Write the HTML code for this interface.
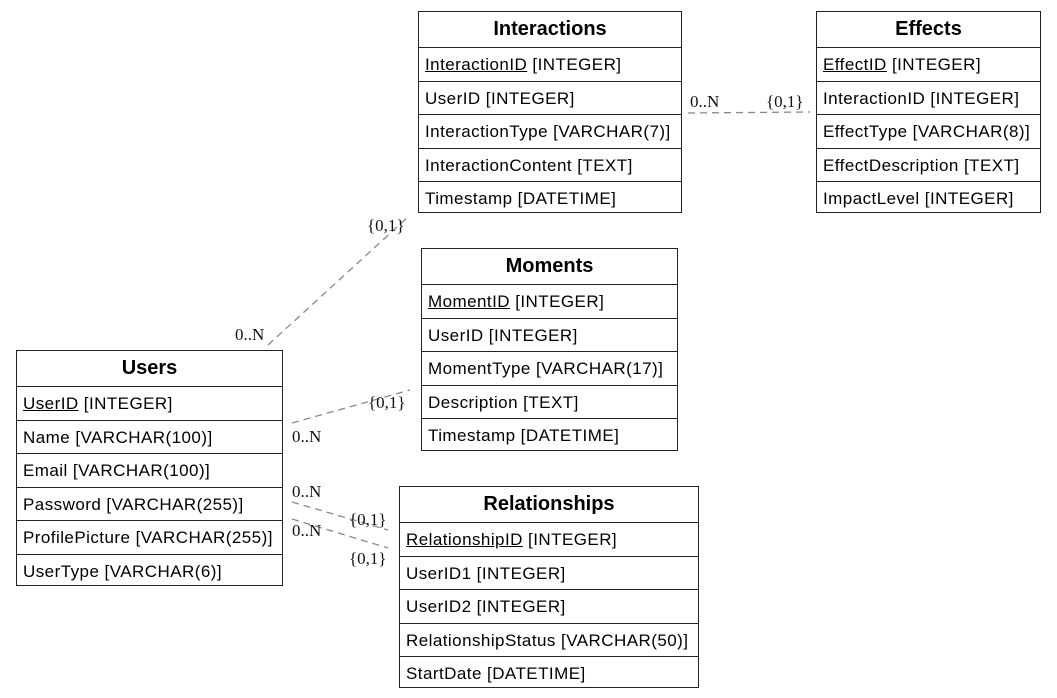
<!DOCTYPE html>
<html><head><style>
body{margin:0;width:1057px;height:698px;background:#fff;position:relative;overflow:hidden;font-family:"Liberation Sans",sans-serif}
.t{position:absolute;border:1.5px solid #222;background:#fff;box-sizing:border-box}
.h{height:35px;line-height:35px;text-align:center;font-weight:bold;font-size:20px;border-bottom:1.5px solid #222}
.r{height:33.5px;line-height:33px;padding-left:6px;font-size:17px;letter-spacing:0.45px;border-bottom:1px solid #222;box-sizing:border-box;white-space:nowrap}
.r:last-child{border-bottom:none}
u{text-decoration:underline}
svg{position:absolute;left:0;top:0}
.l{font-family:"Liberation Serif",serif;font-size:17px;fill:#111}
</style></head><body>
<svg width="1057" height="698">
<g stroke="#888" stroke-width="1.3" stroke-dasharray="7,5" fill="none">
<line x1="268" y1="345" x2="408" y2="217"/>
<line x1="292" y1="423" x2="410" y2="390"/>
<line x1="292" y1="502" x2="388" y2="530"/>
<line x1="292" y1="519" x2="388" y2="548"/>
<line x1="688" y1="113" x2="810" y2="112"/>
</g>
<text class="l" x="235" y="340">0..N</text>
<text class="l" x="367" y="231">{0,1}</text>
<text class="l" x="292" y="442">0..N</text>
<text class="l" x="368" y="408">{0,1}</text>
<text class="l" x="292" y="497">0..N</text>
<text class="l" x="349" y="525">{0,1}</text>
<text class="l" x="292" y="536">0..N</text>
<text class="l" x="349" y="564">{0,1}</text>
<text class="l" x="690" y="107">0..N</text>
<text class="l" x="766" y="107">{0,1}</text>
</svg>
<div class="t" style="left:418px;top:11px;width:264px;height:202px"><div class="h">Interactions</div>
<div class="r"><u>InteractionID</u> [INTEGER]</div><div class="r">UserID [INTEGER]</div><div class="r">InteractionType [VARCHAR(7)]</div><div class="r">InteractionContent [TEXT]</div><div class="r">Timestamp [DATETIME]</div></div>
<div class="t" style="left:816px;top:11px;width:225px;height:202px"><div class="h">Effects</div>
<div class="r"><u>EffectID</u> [INTEGER]</div><div class="r">InteractionID [INTEGER]</div><div class="r">EffectType [VARCHAR(8)]</div><div class="r">EffectDescription [TEXT]</div><div class="r">ImpactLevel [INTEGER]</div></div>
<div class="t" style="left:421px;top:248px;width:257px;height:203px"><div class="h">Moments</div>
<div class="r"><u>MomentID</u> [INTEGER]</div><div class="r">UserID [INTEGER]</div><div class="r">MomentType [VARCHAR(17)]</div><div class="r">Description [TEXT]</div><div class="r">Timestamp [DATETIME]</div></div>
<div class="t" style="left:16px;top:350px;width:267px;height:236px"><div class="h">Users</div>
<div class="r"><u>UserID</u> [INTEGER]</div><div class="r">Name [VARCHAR(100)]</div><div class="r">Email [VARCHAR(100)]</div><div class="r">Password [VARCHAR(255)]</div><div class="r">ProfilePicture [VARCHAR(255)]</div><div class="r">UserType [VARCHAR(6)]</div></div>
<div class="t" style="left:399px;top:486px;width:300px;height:202px"><div class="h">Relationships</div>
<div class="r"><u>RelationshipID</u> [INTEGER]</div><div class="r">UserID1 [INTEGER]</div><div class="r">UserID2 [INTEGER]</div><div class="r">RelationshipStatus [VARCHAR(50)]</div><div class="r">StartDate [DATETIME]</div></div>
</body></html>
